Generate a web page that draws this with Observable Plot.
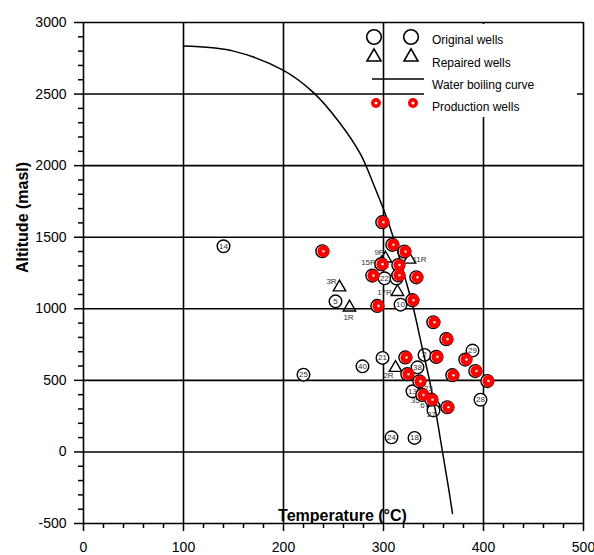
<!DOCTYPE html>
<html>
<head>
<meta charset="utf-8">
<script src="https://cdn.jsdelivr.net/npm/d3@7"></script>
<script src="https://cdn.jsdelivr.net/npm/@observablehq/plot@0.6"></script>
<style>
html, body { margin: 0; padding: 0; background: #fff; }
#chart { position: relative; width: 594px; height: 555px; font-family: Arial, "Liberation Sans", sans-serif; }
#legend { position: absolute; left: 0; top: 0; pointer-events: none; }
</style>
</head>
<body>
<div id="chart"></div>
<script>
// ---- axes ----
const xTicks = [0, 100, 200, 300, 400, 500];
const yTicks = [-500, 0, 500, 1000, 1500, 2000, 2500, 3000];
const xMinor = [20, 40, 60, 80, 120, 140, 160, 180, 220, 240, 260, 280, 320, 340, 360, 380, 420, 440, 460, 480];
const yMinor = [-400, -300, -200, -100, 100, 200, 300, 400, 600, 700, 800, 900, 1100, 1200, 1300, 1400,
                1600, 1700, 1800, 1900, 2100, 2200, 2300, 2400, 2600, 2700, 2800, 2900];

// ---- water boiling curve ----
const curveTemp = [100, 150, 200, 230, 255, 277, 290, 303, 312, 321, 330, 338, 346, 353, 359, 365, 369];
const curveAlt  = [2835, 2800, 2665, 2510, 2310, 2080, 1870, 1640, 1450, 1230, 1000, 750, 500, 250, 0, -250, -430];

// ---- original wells ----
const origLabel = ["14", "5", "22", "4", "10", "21", "40", "25", "38", "2", "29", "13", "28", "24", "18", "", ""];
const origTemp  = [140, 252, 301, 313, 317, 299, 279, 220, 334, 341, 389, 329, 397, 308, 331, 350, 350];
const origAlt   = [1437, 1052, 1213, 1212, 1029, 657, 598, 540, 591, 678, 708, 424, 365, 102, 98, 318, 290];

// ---- repaired wells ----
const repLabel = ["3R", "1R", "17R", "11R", "2R", "9R", "15R"];
const repTemp  = [256, 266, 314, 326, 312, 302, 298];
const repAlt   = [1150, 1010, 1118, 1344, 588, 1352, 1318];

// ---- well names printed beside their symbols ----
const noteText = ["3R", "1R", "17R", "11R", "2R", "9R", "15R", "23", "35", "6", "27"];
const noteTemp = [248, 265, 301, 336, 305, 296, 285, 345, 332, 339, 348];
const noteAlt  = [1191, 937, 1116, 1342, 534, 1395, 1325, 445, 359, 324, 259];

// ---- production wells ----
const prodTemp = [300, 240, 310, 322, 299, 316, 290, 316, 334, 295, 330, 351, 364, 354, 323, 383, 393, 325, 370, 405, 337, 340, 349, 365];
const prodAlt  = [1605, 1402, 1447, 1400, 1312, 1306, 1232, 1234, 1220, 1020, 1060, 906, 788, 664, 660, 645, 565, 543, 536, 495, 493, 398, 365, 312];

// ---- legend ----
const legendLabels = ["Original wells", "Repaired wells", "Water boiling curve", "Production wells"];

const curve = curveTemp.map((t, i) => ({t, a: curveAlt[i]}));
const orig = origTemp.map((t, i) => ({t, a: origAlt[i], label: origLabel[i]}));
const rep = repTemp.map((t, i) => ({t, a: repAlt[i], label: repLabel[i]}));
const notes = noteTemp.map((t, i) => ({t, a: noteAlt[i], label: noteText[i]}));
const prod = prodTemp.map((t, i) => ({t, a: prodAlt[i]}));

const FONT = 'Arial, "Liberation Sans", sans-serif';
const plain = d => String(d);

const plot = Plot.plot({
  width: 594,
  height: 555,
  marginLeft: 83,
  marginRight: 11,
  marginTop: 22,
  marginBottom: 32,
  x: {domain: [0, 500]},
  y: {domain: [-500, 3000]},
  style: {fontFamily: FONT, background: "#fff", color: "#000", overflow: "visible"},
  marks: [
    Plot.ruleX(xTicks, {stroke: "#000", strokeWidth: 1.6}),
    Plot.ruleY(yTicks, {stroke: "#000", strokeWidth: 1.6}),
    Plot.axisX({ticks: xTicks, tickFormat: plain, tickSize: 8, tickPadding: 11, fontSize: 14, label: null, strokeWidth: 1.5}),
    Plot.axisX({ticks: xMinor, tickSize: 5, text: null, label: null, strokeWidth: 1.5}),
    Plot.axisY({ticks: yTicks, tickFormat: plain, tickSize: 9, tickPadding: 8, fontSize: 14, label: null, strokeWidth: 1.5}),
    Plot.axisY({ticks: yMinor, tickSize: 5, text: null, label: null, strokeWidth: 1.5}),
    Plot.text(["Altitude (masl)"], {frameAnchor: "left", rotate: -90, dx: -61, fontSize: 16, fontWeight: "bold", fill: "#000"}),
    Plot.text(["Temperature (°C)"], {frameAnchor: "bottom", dx: 9, dy: -8, lineAnchor: "middle", fontSize: 16, fontWeight: "bold", fill: "#000"}),
    Plot.dot(orig, {x: "t", y: "a", r: 6.3, stroke: "#000", strokeWidth: 1.4, fill: "#fff"}),
    Plot.text(orig, {x: "t", y: "a", text: "label", fontSize: 8, fill: "#333"}),
    Plot.line(curve, {x: "t", y: "a", curve: "catmull-rom", stroke: "#000", strokeWidth: 1.5}),
    Plot.dot(rep, {x: "t", y: "a", symbol: "triangle", r: 4.6, stroke: "#000", strokeWidth: 1.4, fill: "none"}),
    Plot.text(notes, {x: "t", y: "a", text: "label", fontSize: 8, fill: "#333"}),
    Plot.dot(prod, {x: "t", y: "a", r: 6.4, dx: -1.2, stroke: "#000", strokeWidth: 1.4, fill: "#fff"}),
    Plot.dot(prod, {x: "t", y: "a", r: 6.1, fill: "#ff0000"}),
    Plot.dot(prod, {x: "t", y: "a", r: 1.3, fill: "#dddddd"})
  ]
});

const chart = document.getElementById("chart");
chart.appendChild(plot);

// legend overlay
const lg = d3.select(chart).append("svg")
  .attr("id", "legend").attr("width", 594).attr("height", 555)
  .style("font-family", FONT);
lg.append("rect").attr("x", 424).attr("y", 24).attr("width", 153).attr("height", 93).attr("fill", "#fff");
const colX = [374, 411];
const rowY = [37, 56, 79, 103];
const textY = [40, 63, 85, 107];
colX.forEach(cx => {
  lg.append("circle").attr("cx", cx).attr("cy", rowY[0]).attr("r", 7.3)
    .attr("fill", "#fff").attr("stroke", "#000").attr("stroke-width", 1.6);
  lg.append("path").attr("transform", `translate(${cx},${rowY[1] + 1})`)
    .attr("d", d3.symbol(d3.symbolTriangle, 85)())
    .attr("fill", "none").attr("stroke", "#000").attr("stroke-width", 1.6);
  lg.append("circle").attr("cx", cx + 2).attr("cy", rowY[3]).attr("r", 5).attr("fill", "#ff0000");
  lg.append("circle").attr("cx", cx + 2).attr("cy", rowY[3]).attr("r", 1.5).attr("fill", "#fff");
});
lg.append("line").attr("x1", 372).attr("x2", 424).attr("y1", rowY[2]).attr("y2", rowY[2])
  .attr("stroke", "#000").attr("stroke-width", 1.5);
legendLabels.forEach((s, i) => {
  lg.append("text").attr("x", 432).attr("y", textY[i]).attr("dy", "0.35em")
    .attr("font-size", 12).attr("fill", "#000").text(s);
});
</script>
</body>
</html>
